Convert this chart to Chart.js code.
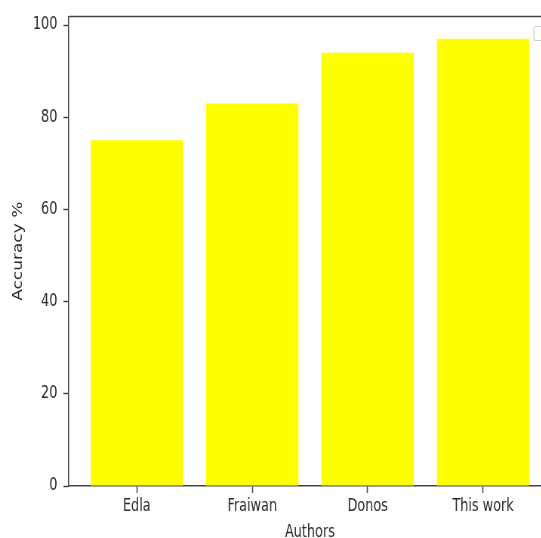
<!DOCTYPE html>
<html>
<head>
<meta charset="utf-8">
<script src="https://cdn.jsdelivr.net/npm/chart.js@4.4.1/dist/chart.umd.min.js"></script>
<style>
  html, body { margin: 0; padding: 0; background: #ffffff; overflow: hidden; width: 541px; height: 538px; }
  #wrap { position: absolute; left: 0; top: 0; width: 745px; height: 550px;
          transform: scaleX(0.755); transform-origin: 0 0; }
  canvas { display: block; }
</style>
</head>
<body>
<div id="wrap"><canvas id="c" width="745" height="550" style="width:745px;height:550px"></canvas></div>
<script>
const categories = ["Edla", "Fraiwan", "Donos", "This work"];
const accuracy = [75, 83, 94, 97];
const yTicks = [0, 20, 40, 60, 80, 100];
const xTitle = "Authors";
const yTitle = "Accuracy %";

const ink = "#2a2a2a";
const spine = "#444444";
const fontSpec = { family: "'DejaVu Sans', sans-serif", size: 17, lineHeight: 1.0 };

const framePlugin = {
  id: "frame",
  afterDraw(chart) {
    const { ctx, chartArea: a } = chart;
    ctx.save();
    ctx.strokeStyle = spine;
    ctx.lineWidth = 1.5;
    ctx.beginPath();
    ctx.moveTo(a.left, a.top);
    ctx.lineTo(a.right, a.top);
    ctx.lineTo(a.right, a.bottom);
    ctx.stroke();
    // empty legend frame (upper right), as in the reference
    const w = 15, h = 14;
    const x = a.right - 8 - w, y = a.top + 10;
    ctx.strokeStyle = "#cccccc";
    ctx.lineWidth = 1.2;
    ctx.beginPath();
    ctx.roundRect(x, y, w, h, 2);
    ctx.stroke();
    ctx.restore();
  }
};

new Chart(document.getElementById("c"), {
  type: "bar",
  data: {
    datasets: [{
      data: accuracy.map((v, i) => ({ x: i, y: v })),
      backgroundColor: "#ffff00",
      borderWidth: 0,
      barPercentage: 0.8,
      categoryPercentage: 1.0
    }]
  },
  plugins: [framePlugin],
  options: {
    responsive: false,
    animation: false,
    layout: { padding: { left: 0, right: 15, top: 15, bottom: 10 } },
    plugins: { legend: { display: false }, tooltip: { enabled: false } },
    scales: {
      x: {
        type: "linear",
        min: -0.59,
        max: 3.59,
        offset: false,
        afterBuildTicks(scale) { scale.ticks = categories.map((c, i) => ({ value: i })); },
        afterFit(scale) { scale.height = 54; },
        grid: { display: true, offset: false, drawOnChartArea: false, drawTicks: true,
                tickLength: 7, tickColor: spine, tickWidth: 1.5 },
        border: { display: true, color: spine, width: 1.5 },
        ticks: { color: ink, font: fontSpec, padding: 5, maxRotation: 0, autoSkip: false,
                 callback: (v) => categories[Math.round(v)] },
        title: { display: true, text: xTitle, color: ink, font: fontSpec, padding: { top: 0, bottom: -1 } }
      },
      y: {
        min: 0,
        max: 101.85,
        afterBuildTicks(scale) { scale.ticks = yTicks.map(v => ({ value: v })); },
        afterFit(scale) { scale.width = 91; },
        grid: { display: true, drawOnChartArea: false, drawTicks: true,
                tickLength: 7, tickColor: spine, tickWidth: 1.5 },
        border: { display: true, color: spine, width: 1.5 },
        ticks: { color: ink, font: fontSpec, padding: 8 },
        title: { display: true, text: yTitle, color: ink, font: fontSpec, padding: { top: 16, bottom: 0 } }
      }
    }
  }
});
</script>
</body>
</html>
